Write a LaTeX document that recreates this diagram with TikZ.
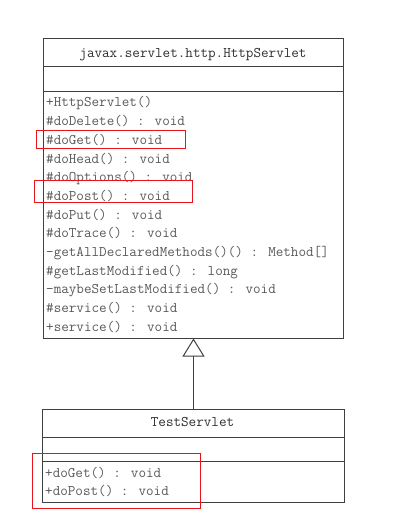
\documentclass[tikz,border=0pt]{standalone}
\usetikzlibrary{arrows.meta}
\definecolor{linecol}{HTML}{404040}
\definecolor{txtcol}{HTML}{5A5A5A}
\definecolor{titlecol}{HTML}{303030}
\definecolor{hlred}{HTML}{E8141B}
\newcommand{\memberfont}{\ttfamily\fontsize{14.7bp}{18.6bp}\selectfont}
\begin{document}
\begin{tikzpicture}[x=1bp,y=-1bp,
  box/.style={draw=linecol, line width=1bp, inner sep=0pt, rectangle},
  sep/.style={draw=linecol, line width=1bp},
  member/.style={anchor=base west, inner sep=0pt, text=txtcol, font=\memberfont},
  title/.style={anchor=base, inner sep=0pt, text=titlecol, font=\memberfont},
  hl/.style={draw=hlred, line width=1bp, inner sep=0pt, rectangle},
]
\useasboundingbox[fill=white] (0,0) rectangle (403,519);
% superclass
\node[box, minimum width=299bp, minimum height=299bp] (http) at (193.5,188.5) {};
\draw[sep] (44,67) -- (343,67);
\draw[sep] (44,92) -- (343,92);
\node[title] (httptitle) at (193,58) {javax.servlet.http.HttpServlet};
\foreach [count=\i] \t in {+HttpServlet(),
  \#doDelete() : void,
  \#doGet() : void,
  \#doHead() : void,
  \#doOptions() : void,
  \#doPost() : void,
  \#doPut() : void,
  \#doTrace() : void,
  {-getAllDeclaredMethods()() : Method[]},
  \#getLastModified() : long,
  -maybeSetLastModified() : void,
  \#service() : void,
  +service() : void}
  \node[member] (m\i) at (46,{102+(\i-1)*18.67+5}) {\t};
% subclass
\node[box, minimum width=301bp, minimum height=93bp] (test) at (193.5,455.5) {};
\draw[sep] (43,437) -- (344,437);
\draw[sep] (43,461) -- (344,461);
\node[title] (testtitle) at (192.5,426) {TestServlet};
\node[member] (t1) at (45,477) {+doGet() : void};
\node[member] (t2) at (45,495.5) {+doPost() : void};
% generalization
\draw[sep, -{Triangle[open, length=18bp, width=22bp, line width=1bp]}] (test.north) -- (http.south);
% highlights
\node[hl, minimum width=148bp, minimum height=18bp] (hlget) at (111,140) {};
\node[hl, minimum width=157bp, minimum height=21bp] (hlpost) at (113.5,191.5) {};
\node[hl, minimum width=167bp, minimum height=55bp] (hlsub) at (116.5,480.5) {};
\end{tikzpicture}
\end{document}
